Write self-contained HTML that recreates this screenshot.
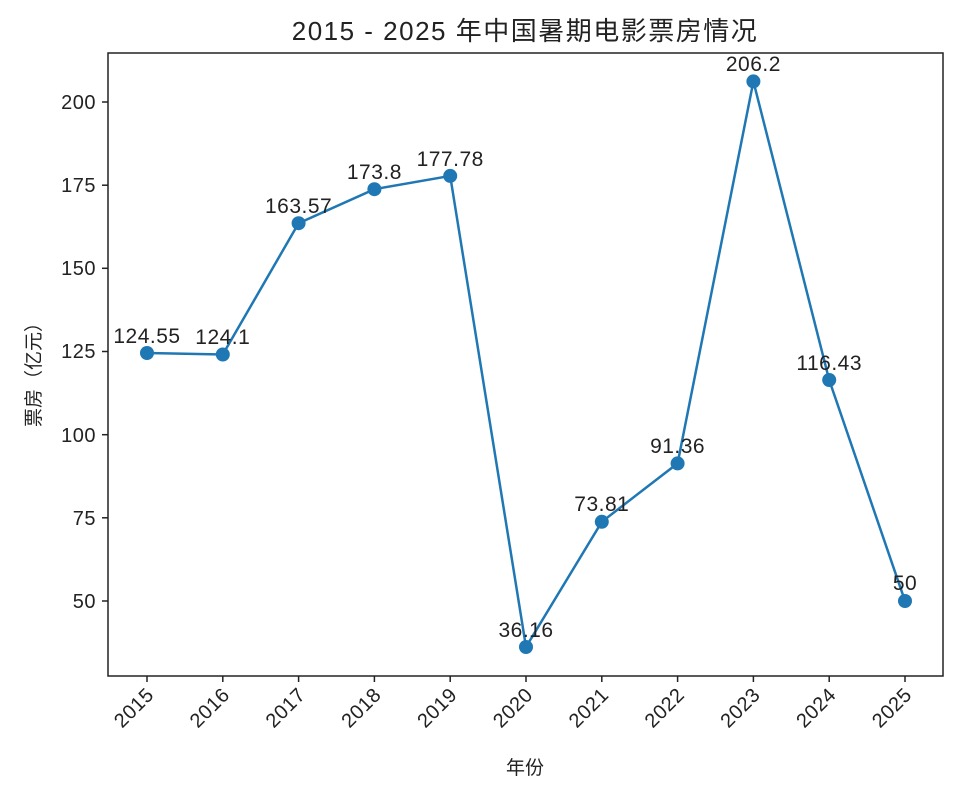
<!DOCTYPE html>
<html><head><meta charset="utf-8"><style>body{margin:0;background:#fff}svg{display:block}text{font-family:"Liberation Sans","Noto Sans CJK SC",sans-serif;fill:#222}</style></head><body>
<svg width="960" height="794" viewBox="0 0 960 794">
<text x="525" y="40" font-size="26" text-anchor="middle" letter-spacing="1.5">2015 - 2025 年中国暑期电影票房情况</text>
<rect x="108" y="53" width="835" height="623" fill="none" stroke="#222" stroke-width="1.5"/>
<g stroke="#222" stroke-width="1.5">
<line x1="102" x2="108" y1="601" y2="601"/><line x1="102" x2="108" y1="517.8" y2="517.8"/><line x1="102" x2="108" y1="434.7" y2="434.7"/><line x1="102" x2="108" y1="351.5" y2="351.5"/><line x1="102" x2="108" y1="268.3" y2="268.3"/><line x1="102" x2="108" y1="185.2" y2="185.2"/><line x1="102" x2="108" y1="102" y2="102"/>
</g>
<g font-size="20" text-anchor="end" letter-spacing="0.5">
<text x="96" y="608">50</text><text x="96" y="525">75</text><text x="96" y="442">100</text><text x="96" y="358">125</text><text x="96" y="275">150</text><text x="96" y="192">175</text><text x="96" y="109">200</text>
</g>
<g stroke="#222" stroke-width="1.5">
<line y1="676" y2="682" x1="147" x2="147"/><line y1="676" y2="682" x1="222.8" x2="222.8"/><line y1="676" y2="682" x1="298.6" x2="298.6"/><line y1="676" y2="682" x1="374.4" x2="374.4"/><line y1="676" y2="682" x1="450.2" x2="450.2"/><line y1="676" y2="682" x1="526" x2="526"/><line y1="676" y2="682" x1="601.8" x2="601.8"/><line y1="676" y2="682" x1="677.6" x2="677.6"/><line y1="676" y2="682" x1="753.4" x2="753.4"/><line y1="676" y2="682" x1="829.2" x2="829.2"/><line y1="676" y2="682" x1="905" x2="905"/>
</g>
<g font-size="20" text-anchor="end" letter-spacing="0.5">
<text transform="translate(155,696) rotate(-45)">2015</text>
<text transform="translate(230.8,696) rotate(-45)">2016</text>
<text transform="translate(306.6,696) rotate(-45)">2017</text>
<text transform="translate(382.4,696) rotate(-45)">2018</text>
<text transform="translate(458.2,696) rotate(-45)">2019</text>
<text transform="translate(534,696) rotate(-45)">2020</text>
<text transform="translate(609.8,696) rotate(-45)">2021</text>
<text transform="translate(685.6,696) rotate(-45)">2022</text>
<text transform="translate(761.4,696) rotate(-45)">2023</text>
<text transform="translate(837.2,696) rotate(-45)">2024</text>
<text transform="translate(913,696) rotate(-45)">2025</text>
</g>
<text x="525" y="774" font-size="19" text-anchor="middle">年份</text>
<text transform="translate(40,370) rotate(-90)" font-size="19" text-anchor="middle">票房（亿元）</text>
<polyline fill="none" stroke="#1f77b4" stroke-width="2.5" points="147,353 222.8,354.5 298.6,223.2 374.4,189.2 450.2,175.9 526,647 601.8,521.8 677.6,463.4 753.4,81.4 829.2,380 905,601"/>
<g fill="#1f77b4">
<circle cx="147" cy="353" r="7"/><circle cx="222.8" cy="354.5" r="7"/><circle cx="298.6" cy="223.2" r="7"/><circle cx="374.4" cy="189.2" r="7"/><circle cx="450.2" cy="175.9" r="7"/><circle cx="526" cy="647" r="7"/><circle cx="601.8" cy="521.8" r="7"/><circle cx="677.6" cy="463.4" r="7"/><circle cx="753.4" cy="81.4" r="7"/><circle cx="829.2" cy="380" r="7"/><circle cx="905" cy="601" r="7"/>
</g>
<g font-size="21" text-anchor="middle" letter-spacing="0.5">
<text x="147" y="343">124.55</text><text x="222.8" y="344">124.1</text><text x="298.6" y="213">163.57</text><text x="374.4" y="179">173.8</text><text x="450.2" y="166">177.78</text><text x="526" y="637">36.16</text><text x="601.8" y="511">73.81</text><text x="677.6" y="453">91.36</text><text x="753.4" y="71">206.2</text><text x="829.2" y="370">116.43</text><text x="905" y="590">50</text>
</g>
</svg>
</body></html>
